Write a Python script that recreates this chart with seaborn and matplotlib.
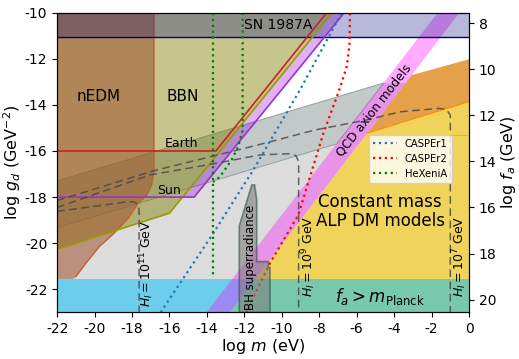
import numpy as np
import pandas as pd
import seaborn as sns
import matplotlib.pyplot as plt

# --- data (log10 units) ---
x_lim = (-22, 0)
y_lim = (-23, -10)
x_ticks = np.arange(-22, 1, 2)
y_ticks = np.arange(-22, -9, 2)
fa_ticks = np.arange(8, 21, 2)
fa_offset = -2.45          # log f_a = -log g_d + fa_offset

# shaded regions (polygon vertices)
gray_x = [-22, -22, -4.56, -3.38, -12.77]
gray_y = [-23, -17.3, -13.05, -13.05, -23]
slate_x = [-22, -4.56, -7.07, -22]
slate_y = [-17.3, -13.05, -15.69, -19.33]
bbn_x = [-22, -16, -7.3, -22]
bbn_y = [-20.26, -18.7, -10, -10]
sun_fill_x = [-15.3, -14.68, -6.66, -7.3]
sun_fill_y = [-18, -18, -10, -10]
nedm_x = [-22, -16.83, -16.83, -16.95, -17.2, -17.67, -18.2, -19.0, -19.75, -20.46, -21.0, -21.15, -22]
nedm_y = [-10, -10, -16.9, -17.47, -17.9, -18.27, -18.92, -19.6, -20.15, -20.87, -21.45, -21.55, -21.55]
sn_level = -11.05
qcd_x = [-14.02, -1.67, -0.51, -12.77]
qcd_y = [-23, -10, -10, -23]
yellow_x = [-12.77, -5.43, 0, 0]
yellow_y = [-23, -15.22, -13.86, -23]
orange_x = [-5.43, -3.07, 0, 0]
orange_y = [-15.22, -12.71, -12.02, -13.86]
planck_top = -21.55
bh_x = [-12.27, -12.27, -11.6, -11.45, -11.34, -11.34, -10.72, -10.72, -10.63, -10.63]
bh_y = [-23, -19.25, -17.47, -17.47, -18.1, -20.8, -20.8, -21.05, -21.05, -23]

# boundary lines
earth_x = [-22, -13.52, -7.6]
earth_y = [-16, -16, -10]
sun_x = [-22, -14.68, -6.66]
sun_y = [-18, -18, -10]

# H_I dashed curves
hi7_x = [-22, -16.8, -11.43, -8.23, -5.46, -3.68, -1.6, -1.2, -1.0, -1.0]
hi7_y = [-18.15, -16.85, -15.77, -15.09, -14.65, -14.3, -14.15, -14.2, -14.45, -23]
hi9_x = [-22, -17.04, -13.48, -11.17, -9.6, -9.25, -9.1, -9.1]
hi9_y = [-18.45, -17.04, -16.53, -16.17, -16.12, -16.2, -16.45, -23]
hi11_x = [-22, -20, -18.4, -17.9, -17.7, -17.62, -17.62]
hi11_y = [-18.62, -18.4, -18.22, -18.2, -18.3, -18.55, -23]

# experiment sensitivities
casper1_x = [-16.47, -13.66, -11.52, -9.03, -6.8]
casper1_y = [-23, -19.57, -16.82, -13.35, -10]
casper2_x = [-11.9, -10.63, -9.12, -7.78, -6.95, -6.53, -6.38, -6.36]
casper2_y = [-23, -20.87, -18.78, -15.23, -13.4, -12.34, -11.33, -10]
hexenia_a_x = [-13.66, -13.66]
hexenia_a_y = [-10, -21.38]
hexenia_b_x = [-12.09, -12.09, -12.33, -12.68, -13.3, -13.66]
hexenia_b_y = [-10, -15.1, -15.81, -16.39, -17.11, -17.35]

sns.set_style('ticks')
plt.rcParams['font.family'] = ['DejaVu Sans']
plt.rcParams['axes.unicode_minus'] = False
plt.rcParams['text.color'] = 'black'
plt.rcParams['axes.edgecolor'] = 'black'
plt.rcParams['xtick.color'] = 'black'
plt.rcParams['ytick.color'] = 'black'
plt.rcParams['axes.labelcolor'] = 'black'

fig, ax = plt.subplots(figsize=(5.19, 3.59), dpi=100)
fig.subplots_adjust(left=0.110, right=0.9037, bottom=0.130, top=0.9646)


def line(xs, ys, **kw):
    df = pd.DataFrame({'x': xs, 'y': ys})
    sns.lineplot(data=df, x='x', y='y', sort=False, estimator=None, ax=ax, **kw)


# fills
ax.fill(gray_x, gray_y, color='#dcdcdc', lw=0, zorder=1)
ax.fill(slate_x, slate_y, color='darkslategray', alpha=0.14, lw=0, zorder=1.1)
ax.fill(slate_x, slate_y, fill=False, ec='#8fa0a0', lw=0.7, zorder=1.1)
ax.fill(bbn_x, bbn_y, color='olive', alpha=0.45, lw=0, zorder=2)
ax.fill(sun_fill_x, sun_fill_y, color='darkviolet', alpha=0.3, lw=0, zorder=2.1)
ax.fill(nedm_x, nedm_y, color='sienna', alpha=0.55, lw=0, zorder=2.2)
line(nedm_x[1:-2], nedm_y[1:-2], color='#c0602a', lw=1, zorder=2.3)
ax.fill(yellow_x, yellow_y, color='#f0d35a', lw=0, zorder=2.5)
ax.fill(orange_x, orange_y, color='#e5a04a', lw=0, zorder=2.5)
line(orange_x[:1] + orange_x[3:], orange_y[:1] + orange_y[3:], color='darkorange', lw=0.8, zorder=2.6)
line([-1.0, 0], [-15.31, -15.31], color='#f5b800', lw=0.8, zorder=2.6)
ax.axhspan(y_lim[0], planck_top, color='deepskyblue', alpha=0.5, lw=0, zorder=2.7)
ax.fill(qcd_x, qcd_y, color='magenta', alpha=0.33, lw=0, zorder=2.8)
ax.axhspan(sn_level, y_lim[1], color='navy', alpha=0.28, lw=0, zorder=3)
ax.axhline(sn_level, color='navy', lw=1, zorder=3.1)

# boundary lines
line(bbn_x[:3], bbn_y[:3], color='#999900', lw=1.2, zorder=3.2)
line(earth_x, earth_y, color='#cc2222', lw=1.2, zorder=3.3)
line(sun_x, sun_y, color='#9b30d9', lw=1.2, zorder=3.3)

# H_I curves
for hx, hy in [(hi7_x, hi7_y), (hi9_x, hi9_y), (hi11_x, hi11_y)]:
    line(hx, hy, color='#444444', alpha=0.8, lw=1.1, linestyle=(0, (5, 3)), zorder=4)

# experiments
line(casper1_x, casper1_y, color='tab:blue', lw=1.6, linestyle=':', label='CASPEr1', zorder=5)
line(casper2_x, casper2_y, color='red', lw=1.6, linestyle=':', label='CASPEr2', zorder=5)
line(hexenia_a_x, hexenia_a_y, color='green', lw=1.6, linestyle=':', label='HeXeniA', zorder=5)
line(hexenia_b_x, hexenia_b_y, color='green', lw=1.6, linestyle=':', zorder=5)

# BH superradiance
ax.fill(bh_x, bh_y, color='gray', alpha=0.6, ec='darkslategray', lw=1.2, zorder=6)

# labels
ax.text(-19.8, -13.62, 'nEDM', fontsize=11, ha='center', va='center', zorder=7)
ax.text(-15.27, -13.62, 'BBN', fontsize=11, ha='center', va='center', zorder=7)
ax.text(-15.35, -15.67, 'Earth', fontsize=9, ha='center', va='center', zorder=7)
ax.text(-16.0, -17.7, 'Sun', fontsize=9, ha='center', va='center', zorder=7)
ax.text(-10.2, -10.53, 'SN 1987A', fontsize=10, ha='center', va='center', zorder=7)
ax.text(-5.07, -14.22, 'QCD axion models', fontsize=8.8, rotation=52, ha='center', va='center', zorder=7)
ax.text(-4.75, -18.62, 'Constant mass\nALP DM models', fontsize=12, ha='center', va='center',
        linespacing=1.1, zorder=7)
ax.text(-4.75, -22.3, r'$f_a > m_{\rm Planck}$', fontsize=12, ha='center', va='center', zorder=7)
ax.text(-17.22, -20.9, r'$H_I = 10^{11}$ GeV', fontsize=9, rotation=90, ha='center', va='center', zorder=7)
ax.text(-8.58, -20.58, r'$H_I = 10^{9}$ GeV', fontsize=9, rotation=90, ha='center', va='center', zorder=7)
ax.text(-0.51, -20.58, r'$H_I = 10^{7}$ GeV', fontsize=9, rotation=90, ha='center', va='center', zorder=7)
ax.text(-11.66, -20.6, 'BH superradiance', fontsize=8.5, rotation=90, ha='center', va='center', zorder=7)

handles, labels = ax.get_legend_handles_labels()
leg = ax.legend(handles, labels, loc='upper left', bbox_to_anchor=(0.745, 0.61), fontsize=7.2,
                handlelength=2.4)
leg.set_zorder(8)

ax.set_xlim(*x_lim)
ax.set_ylim(*y_lim)
ax.set_xticks(x_ticks)
ax.set_yticks(y_ticks)
ax.tick_params(labelsize=10)
ax.set_xlabel('log $m$ (eV)', fontsize=11.5, labelpad=1)
ax.set_ylabel('log $g_d$ (GeV$^{-2}$)', fontsize=11.5, labelpad=1)

ax2 = ax.twinx()
ax2.set_ylim(-y_lim[0] + fa_offset, -y_lim[1] + fa_offset)
ax2.set_yticks(fa_ticks)
ax2.tick_params(labelsize=10)
ax2.set_ylabel('log $f_a$ (GeV)', fontsize=11.5, labelpad=2)
for a in (ax, ax2):
    for s in a.spines.values():
        s.set_color('black')

fig.savefig('out.png', dpi=100)
